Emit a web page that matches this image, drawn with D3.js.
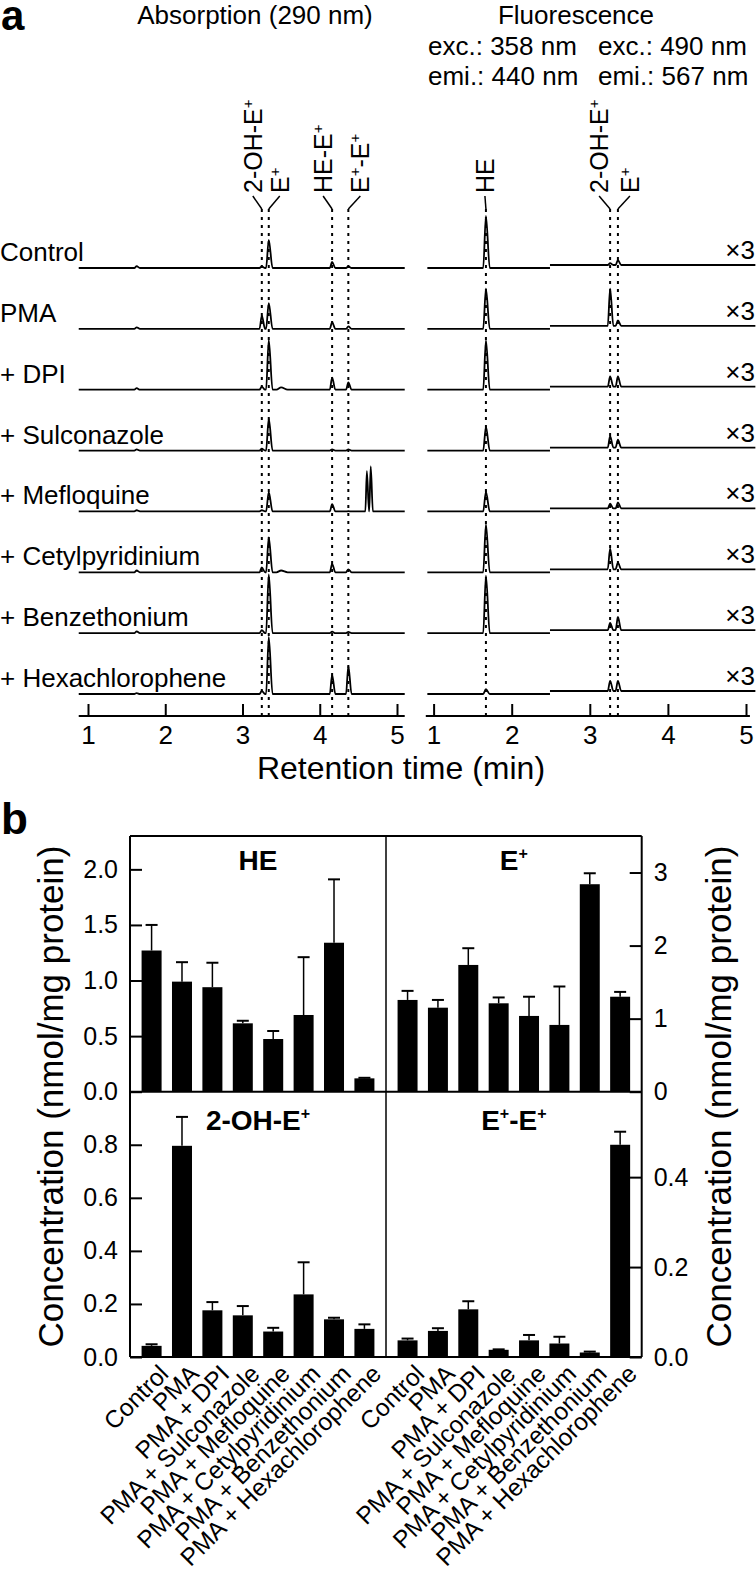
<!DOCTYPE html>
<html>
<head>
<meta charset="utf-8">
<script src="https://cdn.jsdelivr.net/npm/d3@7"></script>
<style>
  body { margin: 0; background: #fff; }
  svg { display: block; font-family: "Liberation Sans", Arial, sans-serif; }
</style>
</head>
<body>
<div id="fig"></div>
<script>
// ---------- panel a : chromatograms ----------
const samples = ["Control", "PMA", "+ DPI", "+ Sulconazole", "+ Mefloquine",
  "+ Cetylpyridinium", "+ Benzethonium", "+ Hexachlorophene"];

// absorption (290 nm) peaks, retention time in min
const absTimes  = [1.63, 3.25, 3.34, 3.50, 4.16, 4.37, 4.61, 4.66];
const absWidths = [0.03, 0.03, 0.035, 0.06, 0.03, 0.03, 0.02, 0.02];
// peak heights (a.u.) per sample, same order as absTimes
const absHeights = [
  [3,   2.5, 47, 0, 10, 2.5, 0,  0],
  [2.5, 22,  43, 0, 11, 4,   0,  0],
  [2.5, 5,   83, 4, 20, 12,  0,  0],
  [2,   3,   53, 0, 2,  2,   0,  0],
  [2,   2,   32, 0, 12, 0.5, 67, 75],
  [3,   8,   58, 3, 14, 5,   0,  0],
  [3,   5,   98, 0, 2.5, 2,  0,  0],
  [1.5, 5,   95, 0, 32, 47,  0,  0]
];
// marked absorption peaks
const absMarks = [
  { name: "2-OH-E^+", t: 3.25, dx: -9 },
  { name: "E^+", t: 3.34, dx: 11 },
  { name: "HE-E^+", t: 4.16, dx: -9 },
  { name: "E^+-E^+", t: 4.37, dx: 12 }
];

// fluorescence peaks (two detector channels)
const flTimes  = [1.67, 3.26, 3.36];
const flWidths = [0.035, 0.03, 0.03];
const flHeights = [
  [87, 3,  8],
  [67, 62, 9],
  [82, 17, 17],
  [40, 19, 13],
  [33, 8,  10],
  [80, 35, 11],
  [96, 12, 22],
  [8,  17, 17]
];
const flSegments = [[0.92, 2.49], [2.49, 5.12]];
const flOffset = [0, 5];
const flMarks = [
  { name: "HE", t: 1.67, dx: -1 },
  { name: "2-OH-E^+", t: 3.26, dx: -11 },
  { name: "E^+", t: 3.36, dx: 12 }
];
const rtTicks = [1, 2, 3, 4, 5];

// ---------- panel b : concentrations ----------
const groups = ["Control", "PMA", "PMA + DPI", "PMA + Sulconazole", "PMA + Mefloquine",
  "PMA + Cetylpyridinium", "PMA + Benzethonium", "PMA + Hexachlorophene"];
const heMean = [1.27, 0.99, 0.94, 0.615, 0.474, 0.69, 1.34, 0.12];
const heErr  = [0.23, 0.175, 0.22, 0.023, 0.072, 0.52, 0.57, 0.005];
const eMean  = [1.256, 1.15, 1.735, 1.21, 1.037, 0.914, 2.84, 1.30];
const eErr   = [0.124, 0.106, 0.229, 0.08, 0.263, 0.526, 0.15, 0.066];
const ohMean = [0.042, 0.796, 0.176, 0.157, 0.096, 0.236, 0.142, 0.106];
const ohErr  = [0.006, 0.109, 0.031, 0.035, 0.014, 0.121, 0.006, 0.017];
const eeMean = [0.037, 0.058, 0.106, 0.016, 0.037, 0.030, 0.010, 0.472];
const eeErr  = [0.004, 0.006, 0.018, 0.001, 0.012, 0.015, 0.002, 0.029];
const heTicks = [0, 0.5, 1, 1.5, 2];
const eTicks  = [0, 1, 2, 3];
const ohTicks = [0, 0.2, 0.4, 0.6, 0.8];
const eeTicks = [0, 0.2, 0.4];

const W = 756, H = 1577;
const svg = d3.select("#fig").append("svg").attr("width", W).attr("height", H);

// text with "^+" superscripts
function richText(sel, str, supSize, raise) {
  const parts = str.split("^+");
  parts.forEach((p, i) => {
    if (p) sel.append("tspan").text(p).attr("dy", i > 0 ? raise : null);
    if (i < parts.length - 1) {
      sel.append("tspan").text("+").attr("font-size", supSize)
        .attr("dy", -raise);
    }
  });
}

//////////////
// PANEL a  //
//////////////
const xAbs = d3.scaleLinear().domain([1, 5]).range([88, 397]);
const xFl  = d3.scaleLinear().domain([1, 5]).range([433.6, 746]);
const rowY = d3.scalePoint().domain(samples).range([268, 694]);
const yInt = d3.scaleLinear().domain([0, 100]).range([0, 60]);
const axisY = 716;

svg.append("text").attr("x", 1).attr("y", 30).attr("font-size", 42)
  .attr("font-weight", "bold").text("a");

const head = svg.append("g").attr("font-size", 26);
head.append("text").attr("x", 255).attr("y", 24).attr("text-anchor", "middle").text("Absorption (290 nm)");
head.append("text").attr("x", 576).attr("y", 24).attr("text-anchor", "middle").text("Fluorescence");
head.append("text").attr("x", 428).attr("y", 55).text("exc.: 358 nm");
head.append("text").attr("x", 598).attr("y", 55).text("exc.: 490 nm");
head.append("text").attr("x", 428).attr("y", 85).text("emi.: 440 nm");
head.append("text").attr("x", 598).attr("y", 85).text("emi.: 567 nm");

function tracePts(times, hts, widths, t0, t1) {
  const pk = times.map((t, i) => ({ t, h: hts[i], w: widths[i] }))
    .filter(p => p.h > 0 && p.t > t0 && p.t < t1)
    .sort((a, b) => a.t - b.t);
  const pts = [[t0, 0]];
  pk.forEach(p => pts.push([p.t - p.w, 0], [p.t, p.h], [p.t + p.w * 1.4, 0]));
  pts.push([t1, 0]);
  return pts;
}

// dotted guide lines + connectors + labels
function marks(list, x) {
  const g = svg.append("g");
  g.selectAll("line.dot").data(list).join("line").attr("class", "dot")
    .attr("x1", d => x(d.t)).attr("x2", d => x(d.t))
    .attr("y1", 209).attr("y2", axisY)
    .attr("stroke", "#000").attr("stroke-width", 2).attr("stroke-dasharray", "3,5");
  g.selectAll("line.con").data(list).join("line").attr("class", "con")
    .attr("x1", d => x(d.t) + d.dx).attr("y1", 196)
    .attr("x2", d => x(d.t)).attr("y2", 209)
    .attr("stroke", "#000").attr("stroke-width", 1.5);
  list.forEach(d => {
    const t = g.append("text")
      .attr("transform", `translate(${x(d.t) + d.dx + 9},193) rotate(-90)`)
      .attr("font-size", 25);
    richText(t, d.name, 15, 9);
  });
}
marks(absMarks, xAbs);
marks(flMarks, xFl);

const line = d3.line().curve(d3.curveMonotoneX);

samples.forEach((s, r) => {
  const base = rowY(s);
  svg.append("text").attr("x", 0).attr("y", base - 7).attr("font-size", 26).text(s);
  svg.append("text").attr("x", 755).attr("y", base - 9).attr("font-size", 26)
    .attr("text-anchor", "end").text("×3");

  svg.append("path")
    .attr("d", line.x(d => xAbs(d[0])).y(d => base - yInt(d[1]))(
      tracePts(absTimes, absHeights[r], absWidths, 0.88, 5.1)))
    .attr("fill", "none").attr("stroke", "#000").attr("stroke-width", 1.8)
    .attr("stroke-linejoin", "round");

  flSegments.forEach((seg, k) => {
    svg.append("path")
      .attr("d", line.x(d => xFl(d[0])).y(d => base - yInt(d[1] + flOffset[k]))(
        tracePts(flTimes, flHeights[r], flWidths, seg[0], seg[1])))
      .attr("fill", "none").attr("stroke", "#000").attr("stroke-width", 1.8)
      .attr("stroke-linejoin", "round");
  });
});

function rtAxis(x, t0, t1) {
  const g = svg.append("g").attr("transform", `translate(0,${axisY})`)
    .call(d3.axisBottom(x).tickValues(rtTicks).tickFormat(d3.format("d"))
      .tickSizeInner(-12).tickSizeOuter(0).tickPadding(10));
  g.select(".domain").remove();
  g.selectAll(".tick line").attr("stroke-width", 2);
  g.selectAll(".tick text").attr("font-size", 26).attr("font-family", null);
  g.append("line").attr("x1", x(t0)).attr("x2", x(t1))
    .attr("stroke", "#000").attr("stroke-width", 2);
}
rtAxis(xAbs, 0.88, 5.1);
rtAxis(xFl, 0.9, 5.05);

svg.append("text").attr("x", 401).attr("y", 779).attr("font-size", 32)
  .attr("text-anchor", "middle").text("Retention time (min)");

//////////////
// PANEL b  //
//////////////
const bx0 = 130, bxm = 386, bx1 = 641.7;
const by0 = 836, bym = 1091.7, by1 = 1357;

svg.append("text").attr("x", 1).attr("y", 834).attr("font-size", 44)
  .attr("font-weight", "bold").text("b");

const panels = [
  { title: "HE", mean: heMean, err: heErr, ticks: heTicks, top: 2.3, fmt: ".1f", col: 0, y0: by0, y1: bym },
  { title: "E^+", mean: eMean, err: eErr, ticks: eTicks, top: 3.5, fmt: "d", col: 1, y0: by0, y1: bym },
  { title: "2-OH-E^+", mean: ohMean, err: ohErr, ticks: ohTicks, top: 1.0, fmt: ".1f", col: 0, y0: bym, y1: by1 },
  { title: "E^+-E^+", mean: eeMean, err: eeErr, ticks: eeTicks, top: 0.59, fmt: ".1f", col: 1, y0: bym, y1: by1 }
];
const cols = [[bx0, bxm], [bxm, bx1]];

panels.forEach(p => {
  const x = d3.scaleBand().domain(groups).range(cols[p.col])
    .paddingInner(0.342).paddingOuter(0.381);
  const y = d3.scaleLinear().domain([0, p.top]).range([p.y1, p.y0]);
  const g = svg.append("g");
  const bw = x.bandwidth();

  g.selectAll("line.err").data(groups).join("line").attr("class", "err")
    .attr("x1", d => x(d) + bw / 2).attr("x2", d => x(d) + bw / 2)
    .attr("y1", (d, i) => y(p.mean[i])).attr("y2", (d, i) => y(p.mean[i] + p.err[i]))
    .attr("stroke", "#000").attr("stroke-width", 1.5);
  g.selectAll("line.cap").data(groups).join("line").attr("class", "cap")
    .attr("x1", d => x(d) + bw / 2 - 6).attr("x2", d => x(d) + bw / 2 + 6)
    .attr("y1", (d, i) => y(p.mean[i] + p.err[i])).attr("y2", (d, i) => y(p.mean[i] + p.err[i]))
    .attr("stroke", "#000").attr("stroke-width", 2);
  g.selectAll("rect").data(groups).join("rect")
    .attr("x", d => x(d)).attr("width", bw)
    .attr("y", (d, i) => y(p.mean[i])).attr("height", (d, i) => y(0) - y(p.mean[i]))
    .attr("fill", "#000");

  const left = p.col === 0;
  const ax = (left ? d3.axisLeft(y) : d3.axisRight(y))
    .tickValues(p.ticks).tickFormat(d3.format(p.fmt))
    .tickSizeInner(-12).tickSizeOuter(0).tickPadding(12);
  const ag = svg.append("g").attr("transform", `translate(${left ? bx0 : bx1},0)`).call(ax);
  ag.select(".domain").remove();
  ag.selectAll(".tick line").attr("stroke-width", 2);
  ag.selectAll(".tick text").attr("font-size", 25).attr("font-family", null);

  const tt = svg.append("text")
    .attr("x", (cols[p.col][0] + cols[p.col][1]) / 2)
    .attr("y", p.y0 + (p.y0 === by0 ? 34 : 38))
    .attr("text-anchor", "middle").attr("font-size", 28).attr("font-weight", "bold");
  richText(tt, p.title, 16, 11);

  if (p.y1 === by1) {
    svg.append("g").selectAll("text").data(groups).join("text")
      .attr("transform", d => `translate(${x(d) + bw / 2 + 6},${by1 + 6}) rotate(-45)`)
      .attr("text-anchor", "end").attr("dy", "0.71em").attr("font-size", 24.5)
      .text(d => d);
  }
});

// frames
const frame = svg.append("g").attr("stroke", "#000");
[[bx0, by0, bx1, by0, 2], [bx0, by1, bx1, by1, 2], [bx0, by0, bx0, by1, 2], [bx1, by0, bx1, by1, 2],
 [bxm, by0, bxm, by1, 1.5], [bx0, bym, bx1, bym, 2]].forEach(l => {
  frame.append("line").attr("x1", l[0]).attr("y1", l[1]).attr("x2", l[2]).attr("y2", l[3])
    .attr("stroke-width", l[4]);
});

const yMid = (by0 + by1) / 2;
svg.append("text").attr("transform", `translate(63,${yMid}) rotate(-90)`)
  .attr("text-anchor", "middle").attr("font-size", 35).text("Concentration (nmol/mg protein)");
svg.append("text").attr("transform", `translate(731,${yMid}) rotate(-90)`)
  .attr("text-anchor", "middle").attr("font-size", 35).text("Concentration (nmol/mg protein)");
</script>
</body>
</html>
